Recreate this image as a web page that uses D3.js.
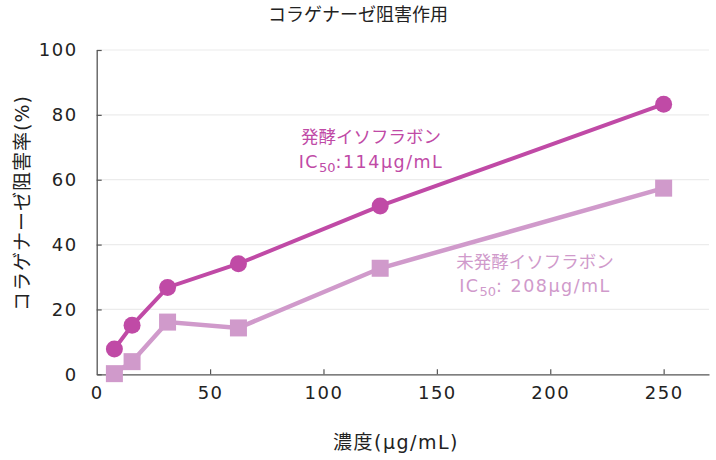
<!DOCTYPE html>
<html>
<head>
<meta charset="utf-8">
<script src="https://cdn.jsdelivr.net/npm/d3@7"></script>
<style>
  body { margin: 0; background: #fff; }
  svg { font-family: "DejaVu Sans", "Noto Sans CJK JP", sans-serif; }
</style>
</head>
<body>
<svg id="chart" width="716" height="460"></svg>
<script>
// concentrations (μg/mL)
var concentrations = [7.8, 15.6, 31.25, 62.5, 125, 250];
// inhibition rate (%)
var fermented = [7.8, 15.1, 26.8, 34.1, 51.9, 83.3];
var unfermented = [0.2, 3.9, 16.1, 14.3, 32.7, 57.4];
var xTicks = [0, 50, 100, 150, 200, 250];
var yTicks = [0, 20, 40, 60, 80, 100];

var darkColor = "#c04aa6",
    lightColor = "#d09acb";

var svg = d3.select("#chart");

var x = d3.scaleLinear().domain([0, 270]).range([96.7, 709]);
var y = d3.scaleLinear().domain([0, 100]).range([374.3, 50]);

// gridlines
svg.append("g")
    .selectAll("line")
    .data(yTicks.filter(function (d) { return d > 0; }))
    .enter().append("line")
    .attr("x1", x(0))
    .attr("x2", x(270))
    .attr("y1", function (d) { return y(d); })
    .attr("y2", function (d) { return y(d); })
    .attr("stroke", "#ececec")
    .attr("stroke-width", 1.2);

// axes
var xAxis = svg.append("g")
    .attr("transform", "translate(0," + y(0) + ")")
    .call(d3.axisBottom(x).tickValues(xTicks).tickSizeInner(-5).tickSizeOuter(0).tickPadding(12));

var yAxis = svg.append("g")
    .attr("transform", "translate(" + x(0) + ",0)")
    .call(d3.axisLeft(y).tickValues(yTicks).tickSizeInner(-5).tickSizeOuter(0).tickPadding(19));

[xAxis, yAxis].forEach(function (a) {
    a.select(".domain").attr("stroke", "#555").attr("stroke-width", 1.3);
    a.selectAll(".tick line").attr("stroke", "#555").attr("stroke-width", 1.2);
    a.selectAll(".tick text")
        .attr("fill", "#222")
        .style("font-size", "18px")
        .style("letter-spacing", "1.5px")
        .style("font-family", "\"DejaVu Sans\", sans-serif");
});
xAxis.selectAll(".tick")
    .filter(function (d) { return d === 0; })
    .select("line").remove();

// lines
var line = d3.line()
    .x(function (d) { return x(d[0]); })
    .y(function (d) { return y(d[1]); });

var lightData = d3.zip(concentrations, unfermented);
var darkData = d3.zip(concentrations, fermented);

svg.append("path")
    .datum(lightData)
    .attr("d", line)
    .attr("fill", "none")
    .attr("stroke", lightColor)
    .attr("stroke-width", 4.5);

svg.append("g")
    .selectAll("rect")
    .data(lightData)
    .enter().append("rect")
    .attr("x", function (d) { return x(d[0]) - 8.5; })
    .attr("y", function (d) { return y(d[1]) - 8.5; })
    .attr("width", 17)
    .attr("height", 17)
    .attr("fill", lightColor);

svg.append("path")
    .datum(darkData)
    .attr("d", line)
    .attr("fill", "none")
    .attr("stroke", darkColor)
    .attr("stroke-width", 4);

svg.append("g")
    .selectAll("circle")
    .data(darkData)
    .enter().append("circle")
    .attr("cx", function (d) { return x(d[0]); })
    .attr("cy", function (d) { return y(d[1]); })
    .attr("r", 8.5)
    .attr("fill", darkColor);

// annotations
function annotate(cx, cy, gap, name, ic, color) {
    var g = svg.append("g").attr("fill", color).attr("text-anchor", "middle").style("font-size", "17.5px");
    g.append("text").attr("x", cx).attr("y", cy).text(name);
    var t = g.append("text").attr("x", cx).attr("y", cy + gap).style("letter-spacing", "1.5px");
    t.append("tspan").text("IC");
    t.append("tspan").attr("dy", 4).style("font-size", "13px").style("letter-spacing", "0px").text("50");
    t.append("tspan").attr("dy", -4).text(ic);
}
annotate(371, 143, 25, "発酵イソフラボン", ":114μg/mL", darkColor);
annotate(535, 268, 24, "未発酵イソフラボン", ": 208μg/mL", lightColor);

// titles
svg.append("text")
    .attr("x", 358).attr("y", 21)
    .attr("text-anchor", "middle")
    .attr("fill", "#222")
    .style("font-size", "18px")
    .text("コラゲナーゼ阻害作用");

svg.append("text")
    .attr("x", 396).attr("y", 449)
    .attr("text-anchor", "middle")
    .attr("fill", "#222")
    .style("font-size", "19px")
    .style("letter-spacing", "1.5px")
    .text("濃度(μg/mL)");

svg.append("text")
    .attr("transform", "translate(29,203) rotate(-90)")
    .attr("text-anchor", "middle")
    .attr("fill", "#222")
    .style("font-size", "19px")
    .style("letter-spacing", "1px")
    .text("コラゲナーゼ阻害率(%)");
</script>
</body>
</html>
